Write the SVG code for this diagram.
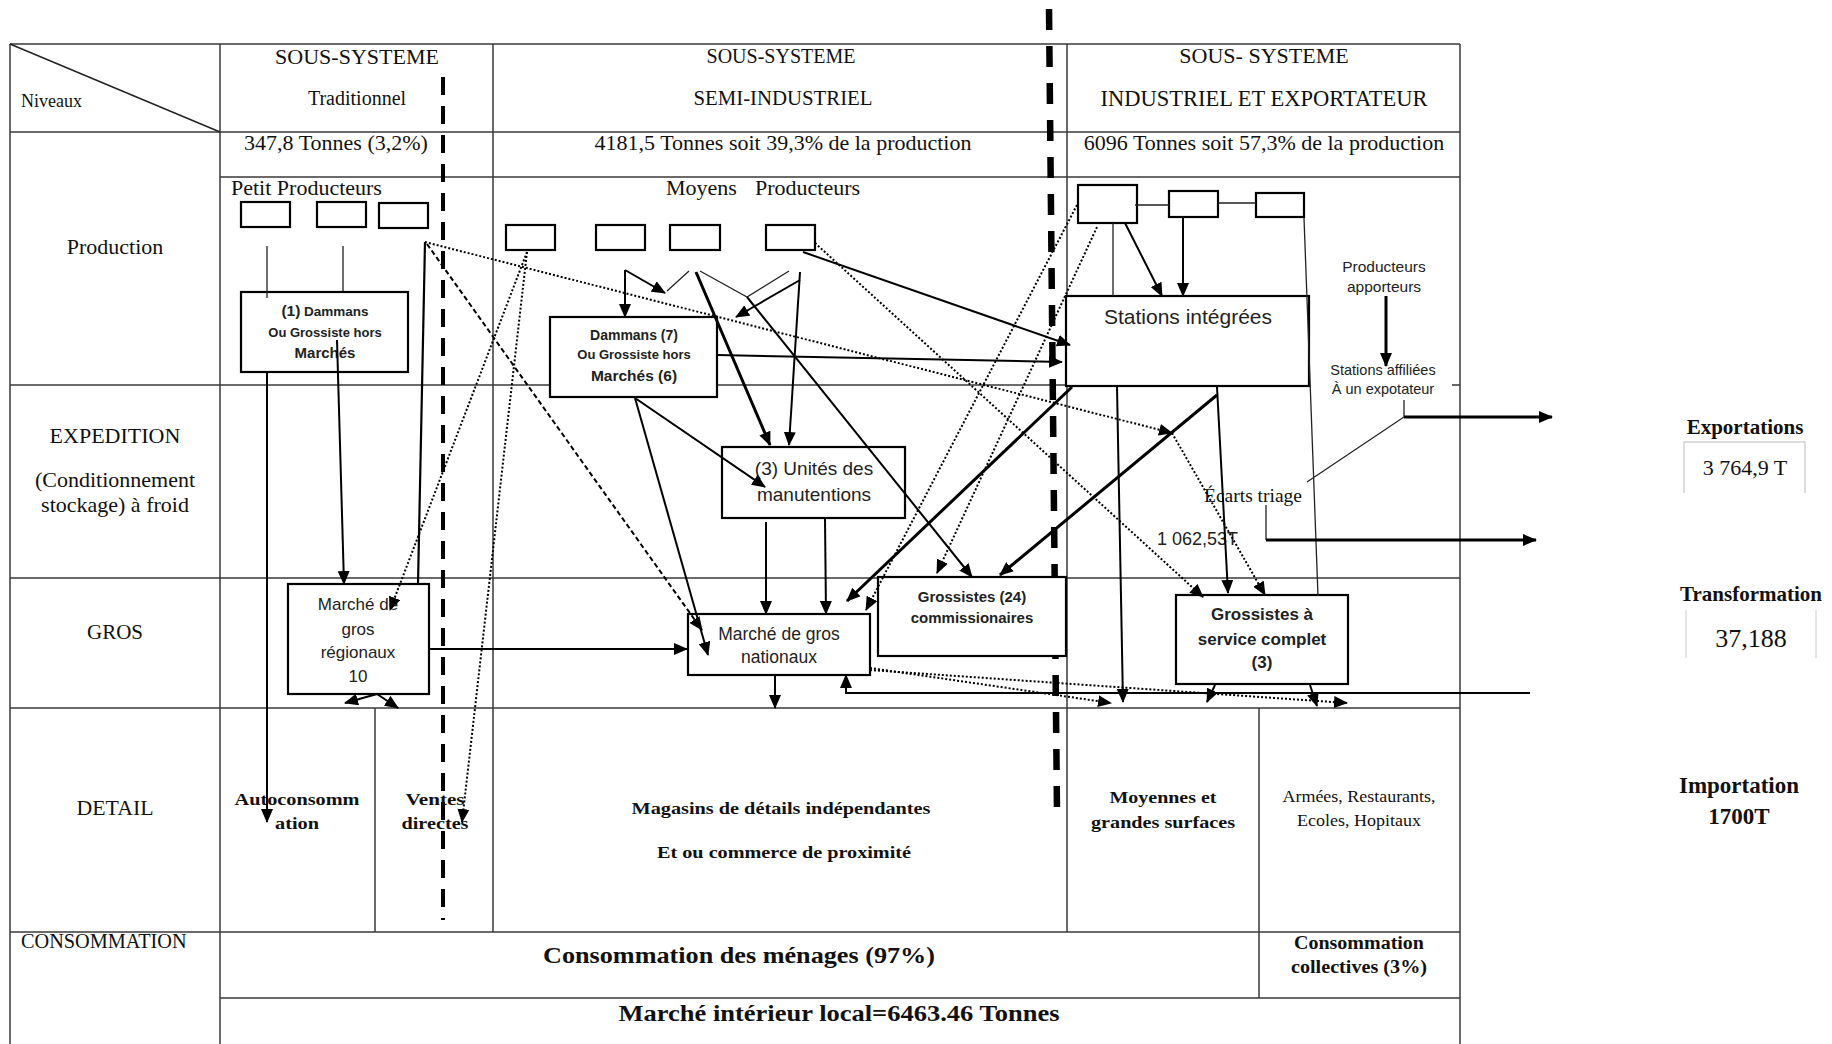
<svg xmlns="http://www.w3.org/2000/svg" width="1832" height="1044" viewBox="0 0 1832 1044">
<defs>
<marker id="ah" markerUnits="userSpaceOnUse" markerWidth="14" markerHeight="12" refX="13" refY="6" orient="auto">
<path d="M0,0 L14,6 L0,12 z" fill="#000"/>
</marker>
<style>
.grid{stroke:#3a3a3a;stroke-width:1.5;fill:none}
.serif{font-family:"Liberation Serif","Times New Roman",serif;fill:#111}
.sb{font-family:"Liberation Serif","Times New Roman",serif;font-weight:bold;fill:#111}
.sans{font-family:"Liberation Sans",Arial,sans-serif;fill:#222}
.sansb{font-family:"Liberation Sans",Arial,sans-serif;font-weight:bold;fill:#222}
.box{fill:#fff;stroke:#000;stroke-width:2.2}
.sbox{fill:none;stroke:#000;stroke-width:2.2}
.thin{stroke:#222;stroke-width:1.3;fill:none}
.sol{stroke:#000;stroke-width:2;fill:none;marker-end:url(#ah)}
.solt{stroke:#000;stroke-width:3;fill:none;marker-end:url(#ah)}
.dot{stroke:#000;stroke-width:2;fill:none;stroke-dasharray:2 2;marker-end:url(#ah)}
.dash{stroke:#000;stroke-width:2;fill:none;stroke-dasharray:5 3;marker-end:url(#ah)}
.c{text-anchor:middle}
</style>
</defs>
<rect width="1832" height="1044" fill="#fff"/>

<g id="table">
<path class="grid" d="M10,44 H1460 M10,132 H1460 M220,177 H1460 M10,385 H1066 M1452,385 H1460 M10,578 H1460 M10,708 H1460 M10,932 H1460 M220,998 H1460"/>
<path class="grid" d="M10,44 V1044 M220,44 V1044 M493,44 V932 M1067,44 V932 M1460,44 V1044 M375,708 V932 M1259,708 V998"/>
<line x1="10" y1="44" x2="220" y2="132" stroke="#222" stroke-width="1.5"/>
</g>

<g id="separators">
<line x1="443" y1="77" x2="443" y2="920" stroke="#000" stroke-width="4" stroke-dasharray="18 11"/>
<line x1="1049" y1="9" x2="1057" y2="812" stroke="#000" stroke-width="6.5" stroke-dasharray="21 16"/>
</g>

<g id="headers">
<text class="serif" x="21" y="107" font-size="18">Niveaux</text>
<text class="serif c" x="357" y="64" font-size="22">SOUS-SYSTEME</text>
<text class="serif c" x="357" y="105" font-size="20">Traditionnel</text>
<text class="serif c" x="781" y="63" font-size="20">SOUS-SYSTEME</text>
<text class="serif c" x="783" y="105" font-size="20.8">SEMI-INDUSTRIEL</text>
<text class="serif c" x="1264" y="63" font-size="22">SOUS- SYSTEME</text>
<text class="serif c" x="1264" y="106" font-size="22.5">INDUSTRIEL ET EXPORTATEUR</text>
<text class="serif c" x="336" y="150" font-size="22">347,8 Tonnes (3,2%)</text>
<text class="serif c" x="783" y="150" font-size="22">4181,5 Tonnes soit 39,3% de la production</text>
<text class="serif c" x="1264" y="150" font-size="22">6096 Tonnes soit 57,3% de la production</text>
</g>

<g id="levels">
<text class="serif c" x="115" y="254" font-size="22">Production</text>
<text class="serif c" x="115" y="443" font-size="22">EXPEDITION</text>
<text class="serif c" x="115" y="487" font-size="22">(Conditionnement</text>
<text class="serif c" x="115" y="512" font-size="22">stockage) à froid</text>
<text class="serif c" x="115" y="639" font-size="21">GROS</text>
<text class="serif c" x="115" y="815" font-size="21.8">DETAIL</text>
<text class="serif" x="21" y="948" font-size="20.3">CONSOMMATION</text>
</g>

<g id="petits-producteurs">
<text class="serif" x="231" y="195" font-size="22">Petit Producteurs</text>
<rect class="sbox" x="241" y="202" width="49" height="25"/>
<rect class="sbox" x="317" y="202" width="49" height="25"/>
<rect class="sbox" x="379" y="203" width="49" height="25"/>
</g>

<g id="moyens-producteurs">
<text class="serif" x="666" y="195" font-size="22">Moyens</text>
<text class="serif" x="755" y="195" font-size="22">Producteurs</text>
<rect class="sbox" x="506" y="225" width="49" height="25"/>
<rect class="sbox" x="596" y="225" width="49" height="25"/>
<rect class="sbox" x="670" y="225" width="50" height="25"/>
<rect class="sbox" x="766" y="225" width="49" height="25"/>
</g>

<g id="producteurs-industriels">
<rect class="sbox" x="1078" y="185" width="59" height="38"/>
<rect class="sbox" x="1169" y="191" width="49" height="26"/>
<rect class="sbox" x="1256" y="193" width="48" height="24"/>
</g>

<g id="dammans-1">
<rect class="box" x="241" y="292" width="167" height="80"/>
<text class="sansb c" x="325" y="316"><tspan font-size="15.5">(1)</tspan><tspan font-size="13.5"> Dammans</tspan></text>
<text class="sansb c" x="325" y="337" font-size="13">Ou Grossiste hors</text>
<text class="sansb c" x="325" y="358" font-size="15">Marchés</text>
</g>

<g id="dammans-7">
<rect class="box" x="550" y="317" width="167" height="80"/>
<text class="sansb c" x="634" y="340" font-size="14">Dammans (7)</text>
<text class="sansb c" x="634" y="359" font-size="13">Ou Grossiste hors</text>
<text class="sansb c" x="634" y="381" font-size="15.5">Marchés (6)</text>
</g>

<g id="stations-integrees">
<rect class="box" x="1066" y="296" width="243" height="90"/>
<text class="sans c" x="1188" y="324" font-size="21">Stations intégrées</text>
</g>

<g id="producteurs-apporteurs">
<text class="sans c" x="1384" y="272" font-size="15.5">Producteurs</text>
<text class="sans c" x="1384" y="292" font-size="15.5">apporteurs</text>
</g>

<g id="stations-affiliees">
<text class="sans c" x="1383" y="375" font-size="14.5">Stations affiliées</text>
<text class="sans c" x="1383" y="394" font-size="14.5">À un expotateur</text>
</g>

<g id="unites-manutentions">
<rect class="box" x="722" y="447" width="183" height="71"/>
<text class="sans c" x="814" y="475" font-size="19">(3) Unités des</text>
<text class="sans c" x="814" y="501" font-size="19">manutentions</text>
</g>

<g id="ecarts-triage">
<text class="serif c" x="1253" y="502" font-size="19.5" fill="#333">Écarts triage</text>
<text class="sans" x="1157" y="545" font-size="18" fill="#333">1 062,53T</text>
</g>

<g id="marche-gros-regionaux">
<rect class="box" x="288" y="584" width="141" height="110"/>
<text class="sans c" x="358" y="610" font-size="17">Marché de</text>
<text class="sans c" x="358" y="635" font-size="17">gros</text>
<text class="sans c" x="358" y="658" font-size="17">régionaux</text>
<text class="sans c" x="358" y="682" font-size="17">10</text>
</g>

<g id="marche-gros-nationaux">
<rect class="box" x="688" y="614" width="182" height="61"/>
<text class="sans c" x="779" y="640" font-size="17.5">Marché de gros</text>
<text class="sans c" x="779" y="663" font-size="17.5">nationaux</text>
</g>

<g id="grossistes-24">
<rect class="box" x="878" y="577" width="188" height="79"/>
<text class="sansb c" x="972" y="602" font-size="15">Grossistes (24)</text>
<text class="sansb c" x="972" y="623" font-size="15">commissionaires</text>
</g>

<g id="grossistes-service-complet">
<rect class="box" x="1176" y="595" width="172" height="89"/>
<text class="sansb c" x="1262" y="620" font-size="17">Grossistes à</text>
<text class="sansb c" x="1262" y="645" font-size="17">service complet</text>
<text class="sansb c" x="1262" y="668" font-size="17">(3)</text>
</g>

<g id="detail-cells">
<text class="sb c" x="297" y="805" font-size="17.5" textLength="125" lengthAdjust="spacingAndGlyphs">Autoconsomm</text>
<text class="sb c" x="297" y="829" font-size="17.5" textLength="44" lengthAdjust="spacingAndGlyphs">ation</text>
<text class="sb c" x="435" y="805" font-size="17.5" textLength="59" lengthAdjust="spacingAndGlyphs">Ventes</text>
<text class="sb c" x="435" y="829" font-size="17.5" textLength="67" lengthAdjust="spacingAndGlyphs">directes</text>
<text class="sb c" x="781" y="814" font-size="17" textLength="299" lengthAdjust="spacingAndGlyphs">Magasins de détails indépendantes</text>
<text class="sb c" x="784" y="858" font-size="17" textLength="254" lengthAdjust="spacingAndGlyphs">Et ou commerce de proximité</text>
<text class="sb c" x="1163" y="803" font-size="17.5" textLength="107" lengthAdjust="spacingAndGlyphs">Moyennes et</text>
<text class="sb c" x="1163" y="828" font-size="17.5" textLength="144" lengthAdjust="spacingAndGlyphs">grandes surfaces</text>
<text class="serif c" x="1359" y="802" font-size="16.5" textLength="153" lengthAdjust="spacingAndGlyphs" fill="#333">Armées, Restaurants,</text>
<text class="serif c" x="1359" y="826" font-size="16.5" textLength="124" lengthAdjust="spacingAndGlyphs" fill="#333">Ecoles, Hopitaux</text>
</g>

<g id="consommation-cells">
<text class="sb c" x="739" y="963" font-size="22.5" textLength="392" lengthAdjust="spacingAndGlyphs">Consommation des ménages (97%)</text>
<text class="sb c" x="1359" y="949" font-size="18" textLength="130" lengthAdjust="spacingAndGlyphs">Consommation</text>
<text class="sb c" x="1359" y="973" font-size="18" textLength="136" lengthAdjust="spacingAndGlyphs">collectives (3%)</text>
<text class="sb c" x="839" y="1021" font-size="22.5" textLength="441" lengthAdjust="spacingAndGlyphs">Marché intérieur local=6463.46 Tonnes</text>
</g>

<g id="exportations">
<text class="sb c" x="1745" y="434" font-size="21">Exportations</text>
<path d="M1684,493 V442 H1805 V493" fill="none" stroke="#bbb" stroke-width="1"/>
<text class="serif c" x="1745" y="475" font-size="22">3 764,9 T</text>
</g>

<g id="transformation">
<text class="sb c" x="1751" y="601" font-size="21">Transformation</text>
<path d="M1686,610 V658 M1816,610 V658" fill="none" stroke="#ccc" stroke-width="1"/>
<text class="serif c" x="1751" y="647" font-size="26">37,188</text>
</g>

<g id="importation">
<text class="sb c" x="1739" y="793" font-size="23">Importation</text>
<text class="sb c" x="1739" y="824" font-size="23">1700T</text>
</g>

<g id="connectors">
<path class="thin" d="M267,246 V298 M343,246 V291 M689,271 L667,291 M700,271 L747,297 L789,271 M1113,223 V296 M1135,205 H1169 M1218,203 H1256 M1304,218 L1318,596 M1404,400 V417 L1307,482 M1266,505 V540"/>
<path class="sol" d="M267,372 V822"/>
<path class="sol" d="M337,340 L344,584"/>
<path d="M425,242 L418,584" stroke="#000" stroke-width="2.2" fill="none"/>
<path class="sol" d="M377,694 L345,703"/>
<path class="sol" d="M377,694 L398,708"/>
<path class="sol" d="M429,649 H687"/>
<path class="sol" d="M625,270 V317"/>
<path class="sol" d="M625,270 L665,293"/>
<path class="solt" d="M696,272 L770,445"/>
<path class="sol" d="M800,272 L789,445"/>
<path class="sol" d="M800,280 L736,317"/>
<path class="sol" d="M747,297 L972,577"/>
<path class="sol" d="M635,398 L765,487"/>
<path class="sol" d="M635,398 L708,655"/>
<path class="sol" d="M717,355 L1062,362"/>
<path class="sol" d="M803,252 L1070,345"/>
<path class="sol" d="M766,522 V614"/>
<path class="sol" d="M825,519 L826,614"/>
<path class="sol" d="M775,675 V708"/>
<path class="sol" d="M1530,693 H846 V675"/>
<path class="sol" d="M1125,223 L1162,296"/>
<path class="sol" d="M1183,217 V296"/>
<path class="solt" d="M1386,296 V366"/>
<path class="solt" d="M1072,387 L847,601"/>
<path class="solt" d="M1217,395 L1000,575"/>
<path class="sol" d="M1217,387 L1228,593"/>
<path class="sol" d="M1117,387 L1123,702"/>
<path class="sol" d="M1215,685 L1207,702"/>
<path class="sol" d="M1310,685 L1317,706"/>
<path class="solt" d="M1404,417 H1552"/>
<path class="solt" d="M1266,540 H1536"/>
<path class="dot" d="M425,242 L1172,433"/>
<path class="dot" d="M1172,433 L1265,595"/>
<path class="dot" d="M527,252 L390,610"/>
<path class="dot" d="M527,252 L462,822"/>
<path class="dot" d="M815,243 L1203,597"/>
<path class="dot" d="M1077,205 L866,610"/>
<path class="dot" d="M1097,227 L937,573"/>
<path class="dot" d="M870,668 L1111,703"/>
<path class="dot" d="M870,670 L1347,703"/>
<path class="dash" d="M427,244 L702,630"/>
</g>
</svg>
